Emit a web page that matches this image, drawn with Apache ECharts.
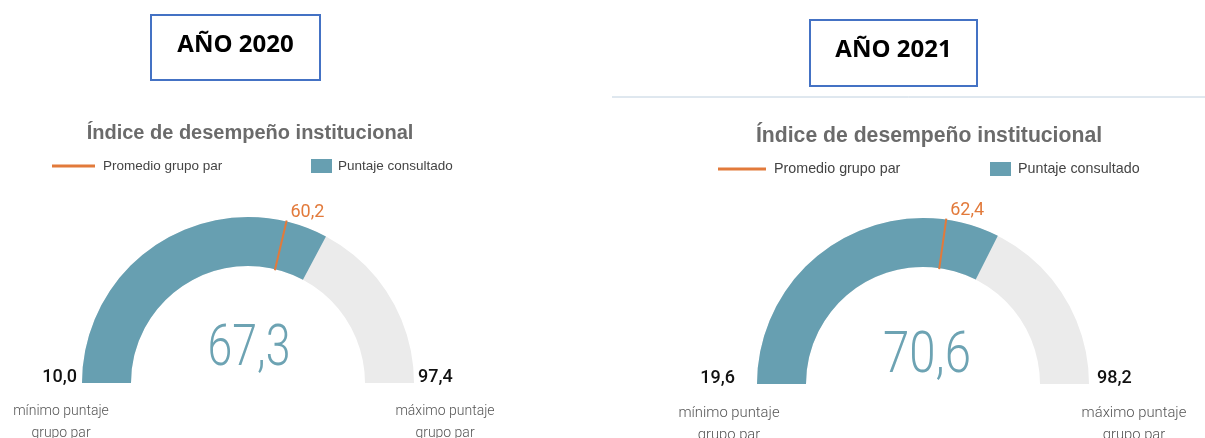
<!DOCTYPE html>
<html>
<head>
<meta charset="utf-8">
<script src="https://cdn.jsdelivr.net/npm/echarts@6/dist/echarts.min.js"></script>
<style>
  html, body { margin: 0; padding: 0; background: #fff; }
  #chart { width: 1205px; height: 438px; }
</style>
</head>
<body>
<div id="chart"></div>
<script>
// datos de los dos años
const years = ['AÑO 2020', 'AÑO 2021']
const puntaje = [67.3, 70.6]      // Puntaje consultado
const promedio = [60.2, 62.4]     // Promedio grupo par
const minimo = [10.0, 19.6]       // mínimo puntaje grupo par
const maximo = [97.4, 98.2]       // máximo puntaje grupo par

const chartTitle = 'Índice de desempeño institucional'
const legendNames = ['Promedio grupo par', 'Puntaje consultado']

const TEAL = '#679fb1'
const ORANGE = '#e27a3b'
const GREY = '#ebebeb'

// layout por panel (s = escala de texto, el panel derecho está algo más grande)
const panels = [
    { s: 1, cx: 248, cy: 383, box: [151, 15, 169, 65], titleY: 133, legY: 166, leg: [52, 95, 103, 311, 338], minX: 77, maxX: 418, noteMin: 61, noteMax: 445, noteY: 411, bigY: 350 },
    { s: 1.06, cx: 923, cy: 384, box: [810, 20, 167, 66], titleY: 136, legY: 169, leg: [718, 766, 774, 990, 1018], minX: 735, maxX: 1097, noteMin: 729, noteMax: 1134, noteY: 413, bigY: 357 }
]
const R = 166
const W = 49

const fmt = v => v.toFixed(1).replace('.', ',')

// posición sobre el arco para un valor
const arcPoint = (i, v, r) => {
    const f = (v - minimo[i]) / (maximo[i] - minimo[i])
    const a = Math.PI * (1 - f)
    return [r * Math.cos(a), -r * Math.sin(a)]
}

const series = []
const graphic = []

panels.forEach((p, i) => {
    // arco del puntaje
    series.push({
        type: 'gauge',
        z: 2,
        center: [p.cx, p.cy],
        radius: R,
        startAngle: 180,
        endAngle: 0,
        min: minimo[i],
        max: maximo[i],
        splitNumber: 1,
        axisLine: { lineStyle: { width: W, color: [[1, GREY]] } },
        progress: { show: true, width: W, itemStyle: { color: TEAL } },
        pointer: { show: false },
        anchor: { show: false },
        axisTick: { show: false },
        splitLine: { show: false },
        axisLabel: { show: false },
        title: { show: false },
        detail: { show: false },
        data: [{ value: puntaje[i] }]
    })

    // marca del promedio
    const tip = arcPoint(i, promedio[i], R)
    series.push({
        type: 'gauge',
        z: 6,
        center: [p.cx, p.cy],
        radius: R,
        startAngle: 180,
        endAngle: 0,
        min: minimo[i],
        max: maximo[i],
        splitNumber: 1,
        axisLine: { show: false },
        progress: { show: false },
        pointer: { show: true, icon: 'rect', length: W + 2, width: 2, offsetCenter: [0, -(R - W - 1)], itemStyle: { color: ORANGE } },
        anchor: { show: false },
        axisTick: { show: false },
        splitLine: { show: false },
        axisLabel: { show: false },
        title: { show: false },
        detail: {
            show: true,
            offsetCenter: [tip[0] + 21, tip[1] - 9],
            formatter: v => fmt(v),
            color: ORANGE,
            fontSize: 18,
            fontFamily: 'Roboto',
            fontWeight: 400
        },
        data: [{ value: promedio[i] }]
    })

    // recuadro del año
    graphic.push({
        type: 'rect',
        shape: { x: p.box[0], y: p.box[1], width: p.box[2], height: p.box[3] },
        style: { fill: '#fff', stroke: '#4472c4', lineWidth: 2 }
    })
    graphic.push({
        type: 'text',
        x: p.box[0] + p.box[2] / 2,
        y: p.box[1] + 30,
        style: { text: years[i], font: 'bold 24px "Open Sans"', fill: '#000', align: 'center', verticalAlign: 'middle' }
    })

    // título
    graphic.push({
        type: 'text',
        x: p.cx + 2 + (p.s > 1 ? 4 : 0),
        y: p.titleY,
        style: { text: chartTitle, font: 'bold ' + (20 * p.s).toFixed(1) + 'px "Liberation Sans"', fill: '#6b6b6b', align: 'center', verticalAlign: 'middle' }
    })

    // leyenda
    const ls = (13.5 * p.s).toFixed(1) + 'px "Liberation Sans"'
    graphic.push({
        type: 'line',
        shape: { x1: p.leg[0], y1: p.legY, x2: p.leg[1], y2: p.legY },
        style: { stroke: ORANGE, lineWidth: 3 }
    })
    graphic.push({
        type: 'text', x: p.leg[2], y: p.legY,
        style: { text: legendNames[0], font: ls, fill: '#444', verticalAlign: 'middle' }
    })
    graphic.push({
        type: 'rect',
        shape: { x: p.leg[3], y: p.legY - 7, width: 21, height: 14 },
        style: { fill: TEAL }
    })
    graphic.push({
        type: 'text', x: p.leg[4], y: p.legY,
        style: { text: legendNames[1], font: ls, fill: '#444', verticalAlign: 'middle' }
    })

    // valor central
    graphic.push({
        type: 'text',
        x: p.cx + 1 + (p.s > 1 ? 3 : 0),
        y: p.bigY,
        scaleX: 0.77 * p.s,
        style: { text: fmt(puntaje[i]), font: '300 58px Roboto', fill: '#6da3b3', align: 'center', verticalAlign: 'middle' }
    })

    // mínimo y máximo
    graphic.push({
        type: 'text', x: p.minX, y: p.cy - 6,
        style: { text: fmt(minimo[i]), font: '500 18px Roboto', fill: '#111', align: 'right', verticalAlign: 'middle' }
    })
    graphic.push({
        type: 'text', x: p.maxX, y: p.cy - 6,
        style: { text: fmt(maximo[i]), font: '500 18px Roboto', fill: '#111', align: 'left', verticalAlign: 'middle' }
    })

    // notas inferiores
    const ns = '300 ' + (14 * p.s).toFixed(1) + 'px Roboto'
    const notes = [[p.noteMin, 'mínimo puntaje'], [p.noteMax, 'máximo puntaje']]
    notes.forEach(n => {
        graphic.push({
            type: 'text', x: n[0], y: p.noteY,
            style: { text: n[1], font: ns, fill: '#555', align: 'center', verticalAlign: 'middle' }
        })
        graphic.push({
            type: 'text', x: n[0], y: p.noteY + 22,
            style: { text: 'grupo par', font: ns, fill: '#555', align: 'center', verticalAlign: 'middle' }
        })
    })
})

// línea separadora
graphic.push({
    type: 'line',
    shape: { x1: 612, y1: 97, x2: 1205, y2: 97 },
    style: { stroke: '#bfd0df', lineWidth: 1 }
})

const chart = echarts.init(document.getElementById('chart'))
chart.setOption({
    animation: false,
    series,
    graphic
})
</script>
</body>
</html>
